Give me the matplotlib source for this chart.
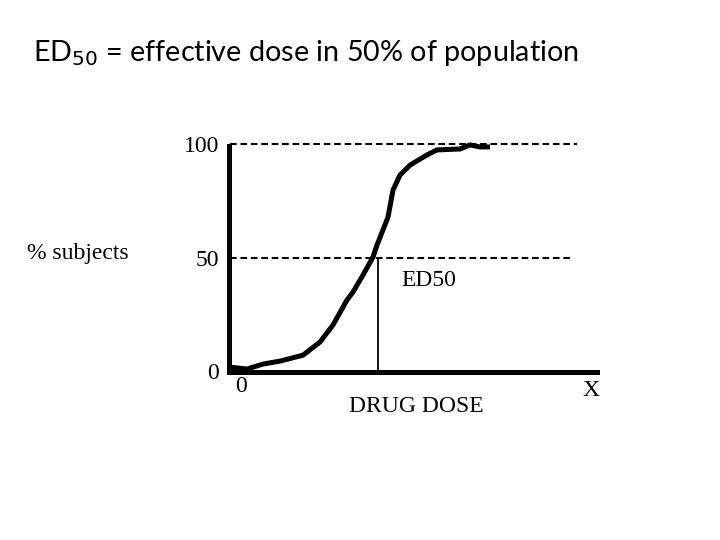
import matplotlib
matplotlib.use("Agg")
import matplotlib.pyplot as plt

# Dose-response curve (dose in arbitrary units, % subjects)
dose = [0, 18, 34, 51, 74, 91, 104, 118, 124, 134, 144, 148, 159, 164, 171, 181, 198, 208, 231, 241, 251, 261]
pct = [1.8, 0.9, 3.1, 4.4, 7.0, 12.8, 20.3, 31.3, 34.8, 42.3, 50.2, 55.5, 67.8, 79.7, 86.3, 90.7, 95.2, 97.4, 97.8, 99.6, 98.7, 98.7]

y_ticks = [0, 50, 100]
y_tick_labels = ["0", "50", "100"]
ed50_dose = 149
ref_levels = [100, 50]
ref_ends = [348, 341]

serif = "Liberation Serif"
fs = 17

fig = plt.figure(figsize=(7.2, 5.4), dpi=100)
W, H = 720, 540
x0, x1 = 229, 597
y0, y1 = 372, 144
ax = fig.add_axes([x0 / W, 1 - y0 / H, (x1 - x0) / W, (y0 - y1) / H])
ax.set_xlim(0, x1 - x0)
ax.set_ylim(-0.4, 100)

for s in ["top", "right"]:
    ax.spines[s].set_visible(False)
ax.spines["left"].set_linewidth(3.6)
ax.spines["bottom"].set_linewidth(3.6)
ax.spines["left"].set_bounds(-0.4, 99)
ax.set_xticks([])
ax.set_yticks(y_ticks)
ax.set_yticklabels(y_tick_labels, fontfamily=serif, fontsize=fs)
ax.tick_params(axis="y", length=0, pad=7)

for lvl, end in zip(ref_levels, ref_ends):
    ax.plot([1, end], [lvl, lvl], color="black", lw=1.5, linestyle=(0, (3.2, 1.8)), clip_on=False)

ax.plot([ed50_dose, ed50_dose], [0, 50], color="black", lw=1.3)
ax.plot(dose, pct, color="black", lw=3.6, solid_capstyle="butt", clip_on=False)

fig.text(33 / W, 1 - 53 / H, r"ED$_{50}$ = effective dose in 50% of population",
         fontfamily="Lato", fontsize=20.7, va="center", ha="left")
fig.text(27 / W, 1 - 253 / H, "% subjects", fontfamily=serif, fontsize=fs, va="center", ha="left")
fig.text(401 / W, 1 - 281 / H, "ED50", fontfamily=serif, fontsize=fs, va="center", ha="left")
fig.text(241 / W, 1 - 386 / H, "0", fontfamily=serif, fontsize=fs, va="center", ha="center")
fig.text(416 / W, 1 - 407 / H, "DRUG DOSE", fontfamily=serif, fontsize=fs, va="center", ha="center")
fig.text(591 / W, 1 - 390 / H, "X", fontfamily=serif, fontsize=fs, va="center", ha="center")

fig.savefig("out.png", dpi=100)
